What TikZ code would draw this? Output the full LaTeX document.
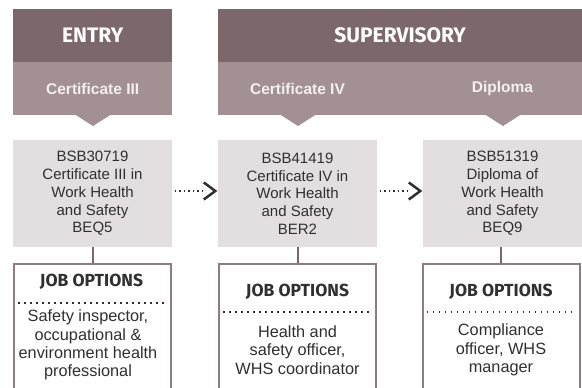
\documentclass[tikz,border=0pt]{standalone}
\usepackage{fontspec}
\setmainfont{Liberation Sans}
\newfontfamily\headfont{Fira Sans}
\usetikzlibrary{calc}
\definecolor{dark}{HTML}{7C676C}
\definecolor{light}{HTML}{A39092}
\definecolor{boxgray}{HTML}{E3DEDF}
\definecolor{jobborder}{HTML}{8E7D80}
\definecolor{txt}{HTML}{303030}
\definecolor{bandtxt}{HTML}{F4F0F0}
\begin{document}
\begin{tikzpicture}[x=1pt,y=-1pt,
  darkband/.style={fill=dark,draw=none,inner sep=0pt,text=white,font=\headfont\bfseries\fontsize{21}{24}\selectfont},
  lightband/.style={fill=light,draw=none,inner sep=0pt,text=bandtxt,font=\bfseries\fontsize{15.5}{18}\selectfont},
  bandlabel/.style={text=bandtxt,font=\bfseries\fontsize{15.5}{18}\selectfont,inner sep=0pt},
  qualbox/.style={fill=boxgray,draw=none,inner sep=0pt,minimum width=159,minimum height=107,text=txt,align=center,font=\fontsize{15}{17.7}\selectfont},
  jobbox/.style={draw=jobborder,line width=2pt,fill=white,inner sep=0pt,minimum width=157,minimum height=140,anchor=north},
  jobhead/.style={text=txt,font=\headfont\bfseries\fontsize{17.5}{20}\selectfont,inner sep=0pt},
  jobtxt/.style={text=txt,align=center,font=\fontsize{16.3}{18.3}\selectfont,inner sep=0pt},
  jobdots/.style={draw=txt,line width=1.8pt,dash pattern=on 1.8pt off 4.2pt},
  conn/.style={draw=dark,line width=2pt},
  flowdots/.style={draw=txt,line width=1.6pt,dash pattern=on 1.6pt off 2.9pt},
  chev/.style={draw=txt,line width=2.5pt,line cap=butt,line join=miter}
]
\useasboundingbox (0,0) rectangle (582,388);

% headers
\node[darkband,anchor=north west,minimum width=159,minimum height=53] (entry) at (13,9) {ENTRY};
\node[lightband,anchor=north west,minimum width=159,minimum height=53] (cert3) at (13,62) {Certificate III};
\node[darkband,anchor=north west,minimum width=364,minimum height=53] (super) at (218,9) {SUPERVISORY};
\node[lightband,anchor=north west,minimum width=364,minimum height=53] (superband) at (218,62) {};
\node[bandlabel] (cert4) at (297.5,88.5) {Certificate IV};
\node[bandlabel] (dipl) at (502.5,88.5) {Diploma};

% pointers
\fill[light] (75,114.5) -- (111,114.5) -- (93,126) -- cycle;
\fill[light] (280,114.5) -- (316,114.5) -- (298,126) -- cycle;
\fill[light] (485,114.5) -- (521,114.5) -- (503,126) -- cycle;

% qualification boxes
\node[qualbox] (g1) at (92.5,193.5) {BSB30719\\Certificate III in\\Work Health\\and Safety\\BEQ5};
\node[qualbox] (g2) at (297.5,193.5) {BSB41419\\Certificate IV in\\Work Health\\and Safety\\BER2};
\node[qualbox] (g3) at (502.5,193.5) {BSB51319\\Diploma of\\Work Health\\and Safety\\BEQ9};

% flow arrows
\draw[flowdots] ([xshift=2.5,yshift=2.5]g1.east) -- ([xshift=-13,yshift=2.5]g2.west);
\draw[chev] ([xshift=-14,yshift=11]g2.west) -- ([xshift=-2.5,yshift=2.5]g2.west) -- ([xshift=-14,yshift=-6]g2.west);
\draw[flowdots] ([xshift=2.5,yshift=2.5]g2.east) -- ([xshift=-13,yshift=2.5]g3.west);
\draw[chev] ([xshift=-14,yshift=11]g3.west) -- ([xshift=-2.5,yshift=2.5]g3.west) -- ([xshift=-14,yshift=-6]g3.west);

% job boxes
\node[jobbox] (j1) at (92.5,263) {};
\node[jobbox] (j2) at (297.5,263) {};
\node[jobbox] (j3) at (501,263) {};
\draw[conn] (g1.south) -- (j1.north);
\draw[conn] (g2.south) -- (j2.north);
\draw[conn] ([xshift=-1.5]g3.south) -- (j3.north);

\node[jobhead] (h1) at (91.5,282) {JOB OPTIONS};
\node[jobhead] (h2) at (297.5,292) {JOB OPTIONS};
\node[jobhead] (h3) at (501,292) {JOB OPTIONS};
\draw[jobdots] ($(j1.north west)+(5,40)$) -- ($(j1.north east)+(-8,40)$);
\draw[jobdots] ($(j2.north west)+(5,49)$) -- ($(j2.north east)+(-8,49)$);
\draw[jobdots] ($(j3.north west)+(5,49)$) -- ($(j3.north east)+(-8,49)$);

\node[jobtxt] (t1) at (88,345) {Safety inspector,\\occupational \&\\environment health\\professional};
\node[jobtxt] (t2) at (297.5,350) {Health and\\safety officer,\\WHS coordinator};
\node[jobtxt] (t3) at (501,350) {Compliance\\officer, WHS\\manager};
\end{tikzpicture}
\end{document}
